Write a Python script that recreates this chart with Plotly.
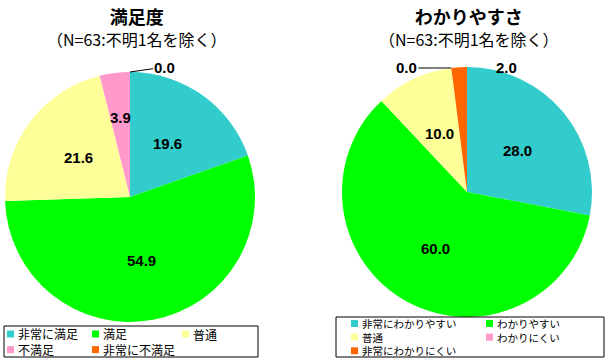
import math
import plotly.graph_objects as go

# ---- data ----
titles = ["満足度", "わかりやすさ"]
subtitle = "（N=63:不明1名を除く）"
sat_labels = ["非常に満足", "満足", "普通", "不満足", "非常に不満足"]
sat_values = [19.6, 54.9, 21.6, 3.9, 0.0]
und_labels = ["非常にわかりやすい", "わかりやすい", "普通", "わかりにくい", "非常にわかりにくい"]
und_values = [28.0, 60.0, 10.0, 0.0, 2.0]
colors = ["#33CCCC", "#00FF00", "#FFFF99", "#FF99CC", "#FF6600"]

W, H = 609, 361
JP = "Noto Sans CJK JP"
NUM = "Liberation Sans"

# pie geometry in pixels (center x, center y, radius)
pies = [
    dict(cx=130, cy=197, r=125, labels=sat_labels, values=sat_values),
    dict(cx=467, cy=192, r=125, labels=und_labels, values=und_values),
]

# special outside labels: (pie index, slice index) -> (anchor angle mode, dx, dy, leader)
outside = {
    (0, 4): ("start", 35, -5, True),
    (1, 3): ("start", -45, 0, True),
    (1, 4): ("end", 40, 0, False),
}

fig = go.Figure()
annotations = []
shapes = []

def px2paper(x, y):
    return x / W, 1 - y / H

numfont = dict(family=NUM, size=15, color="black")

for pi, p in enumerate(pies):
    cx, cy, r = p["cx"], p["cy"], p["r"]
    x0, x1 = (cx - r) / W, (cx + r) / W
    y0, y1 = 1 - (cy + r) / H, 1 - (cy - r) / H
    fig.add_trace(go.Pie(
        labels=p["labels"], values=p["values"], sort=False, direction="clockwise",
        rotation=0, marker=dict(colors=colors, line=dict(width=0)),
        textinfo="none", hoverinfo="skip", showlegend=False,
        domain=dict(x=[x0, x1], y=[y0, y1]),
    ))
    total = sum(p["values"])
    cum = 0.0
    for si, v in enumerate(p["values"]):
        a0 = cum / total * 360
        cum += v
        a1 = cum / total * 360
        txt = f"<b>{v:.1f}</b>"
        if (pi, si) in outside:
            mode, dx, dy, leader = outside[(pi, si)]
            ang = math.radians(a0 if mode == "start" else a1)
            hx = cx + r * math.sin(ang)
            hy = cy - r * math.cos(ang)
            if leader:
                ax, ay = px2paper(hx, hy)
                annotations.append(dict(
                    x=ax, y=ay, xref="paper", yref="paper", text=txt,
                    showarrow=True, arrowhead=0, arrowwidth=1, arrowcolor="black",
                    ax=dx, ay=dy, font=numfont))
            else:
                tx, ty = px2paper(hx + dx, hy + dy)
                annotations.append(dict(
                    x=tx, y=ty, xref="paper", yref="paper", text=txt, showarrow=False,
                    xanchor="center", yanchor="middle", font=numfont))
            continue
        mid = math.radians((a0 + a1) / 2)
        rf = 0.52 if v >= 5 else 0.64
        tx, ty = px2paper(cx + rf * r * math.sin(mid), cy - rf * r * math.cos(mid))
        annotations.append(dict(
            x=tx, y=ty, xref="paper", yref="paper", text=txt, showarrow=False,
            xanchor="center", yanchor="middle", font=numfont))

# titles (title + subtitle as one two-line text)
title_cx = [137, 469]
for t, tcx in zip(titles, title_cx):
    annotations.append(dict(
        x=tcx / W, y=1 - 27 / H, xref="paper", yref="paper",
        text=f"<b><span style='font-size:18px'>{t}</span></b><br>"
             f"<span style='font-size:16px'>{subtitle}</span>",
        showarrow=False, xanchor="center", yanchor="middle", align="center",
        font=dict(family=JP, size=17, color="black")))

# legends (each column is one multi-line text)
legends = [
    dict(box=(4, 326, 258, 357), labels=sat_labels, cols=[7, 92, 182], ncol=3,
         row0=334, fs=12),
    dict(box=(336, 317, 604, 357), labels=und_labels, cols=[351, 486], ncol=2,
         row0=323.5, fs=10.5),
]
for lg in legends:
    bx0, by0, bx1, by1 = lg["box"]
    shapes.append(dict(type="rect", xref="paper", yref="paper",
                       x0=bx0 / W, x1=bx1 / W, y0=1 - by1 / H, y1=1 - by0 / H,
                       line=dict(color="black", width=1), fillcolor="rgba(0,0,0,0)"))
    L = 1.3 * lg["fs"]
    for ci, c in enumerate(lg["cols"]):
        idx = list(range(ci, len(lg["labels"]), lg["ncol"]))
        for k, i in enumerate(idx):
            rr = lg["row0"] + k * L
            shapes.append(dict(type="rect", xref="paper", yref="paper",
                               x0=c / W, x1=(c + 7) / W,
                               y0=1 - (rr + 3.5) / H, y1=1 - (rr - 3.5) / H,
                               line=dict(width=0), fillcolor=colors[i]))
        yc = lg["row0"] + (len(idx) - 1) * L / 2
        annotations.append(dict(x=(c + 10) / W, y=1 - yc / H, xref="paper", yref="paper",
                                text="<br>".join(lg["labels"][i] for i in idx),
                                showarrow=False, xanchor="left", yanchor="middle",
                                align="left", borderpad=0,
                                font=dict(family=JP, size=lg["fs"], color="black")))

fig.update_layout(
    width=W, height=H, margin=dict(l=0, r=0, t=0, b=0),
    paper_bgcolor="white", plot_bgcolor="white",
    annotations=annotations, shapes=shapes, showlegend=False,
)
fig.write_html("out.html", config={"displayModeBar": False},
               post_script="document.body.style.margin='0';document.body.style.overflow='hidden';")
